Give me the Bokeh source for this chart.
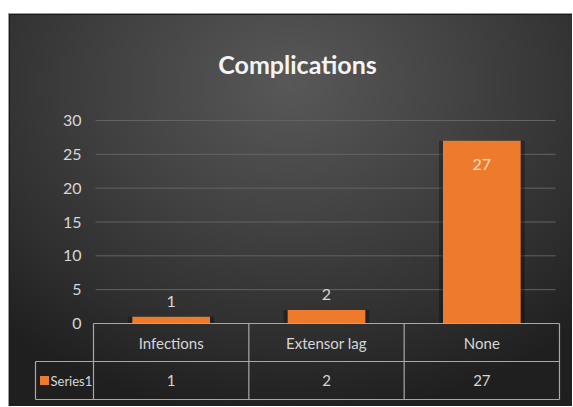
from bokeh.plotting import figure
from bokeh.models import Range1d, ColumnDataSource, Spacer
from bokeh.layouts import column, row
from bokeh.core.properties import value
from bokeh.embed import file_html
from bokeh.resources import INLINE

# ---- data ----
categories = ["Infections", "Extensor lag", "None"]
counts = [1, 2, 27]
series_name = "Series1"
y_ticks = [0, 5, 10, 15, 20, 25, 30]
title_text = "Complications"

# ---- layout constants (pixels) ----
W, H = 564, 393
FONT = "Lato, 'Open Sans', sans-serif"
COL_PX = 155.33          # width of one category column
PPU = 203.0 / 30.0       # pixels per y unit
ROW_PX = 38.0            # table row height
LEG_PX = 58.0            # legend column width
TXT = "#d6d6d6"
LINE = "#a8a8a8"
BAR = "#ee7b2c"

n = len(categories)
xs = [i + 0.5 for i in range(n)]
r1 = ROW_PX / PPU
r2 = 2 * ROW_PX / PPU
leg_left = -LEG_PX / COL_PX

p = figure(width=W, height=H, output_backend="svg", toolbar_location=None,
           x_axis_type=None, y_axis_type=None,
           x_range=Range1d(-60 / COL_PX, n + 2 / COL_PX),
           y_range=Range1d(-(78 / PPU), max(y_ticks) + 10 / PPU),
           min_border_left=25, min_border_right=W - 553, min_border_top=97,
           min_border_bottom=H - 388)
p.border_fill_alpha = 0
p.background_fill_alpha = 0
p.outline_line_color = None
p.styles = {
    "background": "radial-gradient(ellipse 75% 85% at 50% 18%, #585858 0%, #434343 40%, #2f2f2f 75%, #1f1f1f 100%)",
    "box-shadow": "inset 1px 1px 0 0 #9a9a9a, inset 2px 2px 0 0 #1a1a1a",
}

# title
p.title.text = title_text
p.title.align = "center"
p.title.text_font = FONT
p.title.text_font_size = "25px"
p.title.text_font_style = "bold"
p.title.text_color = "#f4f4f4"
p.title.standoff = 64
p.title.offset = -9

# gridlines (from tick list)
grid_y = [t for t in y_ticks if t > 0]
p.segment(x0=[2 / COL_PX] * len(grid_y), x1=[n - 4 / COL_PX] * len(grid_y),
          y0=grid_y, y1=grid_y, line_color="#636363", line_width=1)

# y tick labels
p.text(x=[-12 / COL_PX] * len(y_ticks), y=y_ticks, text=[str(t) for t in y_ticks],
       text_font=value(FONT), text_font_size="16px", text_color=TXT,
       text_align="right", text_baseline="middle")

# bars with shadow
src = ColumnDataSource(dict(x=xs, top=counts, cat=categories))
p.vbar(x="x", top="top", bottom=0, width=0.5 + 8 / COL_PX, source=src,
       fill_color="black", fill_alpha=0.3, line_color=None)
p.vbar(x="x", top="top", bottom=0, width=0.5, source=src,
       fill_color=BAR, line_color=None)

# data labels
out_x, out_y, out_t, in_x, in_y, in_t = [], [], [], [], [], []
for x, v in zip(xs, counts):
    if v * PPU > 40:
        in_x.append(x); in_y.append(v); in_t.append(str(v))
    else:
        out_x.append(x); out_y.append(v); out_t.append(str(v))
p.text(x=out_x, y=out_y, text=out_t, text_font=value(FONT), text_font_size="16px",
       text_color=TXT, text_align="center", text_baseline="bottom", y_offset=-10)
p.text(x=in_x, y=in_y, text=in_t, text_font=value(FONT), text_font_size="16px",
       text_color="#fde2cf", text_align="center", text_baseline="top", y_offset=18)

# data table
hx0 = [0, leg_left, leg_left]
hx1 = [n, n, n]
hy = [0, -r1, -r2]
p.segment(x0=hx0, x1=hx1, y0=hy, y1=hy, line_color=LINE, line_width=1.2)
vx = list(range(n + 1)) + [leg_left]
vy0 = [0] * (n + 1) + [-r1]
vy1 = [-r2] * (n + 2)
p.segment(x0=vx, x1=vx, y0=vy0, y1=vy1, line_color=LINE, line_width=1.2)

p.text(x=xs, y=[-r1 / 2] * n, text=categories, text_font=value(FONT), text_font_size="15px",
       text_color=TXT, text_align="center", text_baseline="middle")
p.text(x=xs, y=[-(r1 + r2) / 2] * n, text=[str(v) for v in counts], text_font=value(FONT),
       text_font_size="15px", text_color=TXT, text_align="center", text_baseline="middle")

# legend key in table
p.scatter(x=[leg_left + 9 / COL_PX], y=[-(r1 + r2) / 2], marker="square", size=9,
          fill_color=BAR, line_color=None)
p.text(x=[leg_left + 15 / COL_PX], y=[-(r1 + r2) / 2], text=[series_name], text_font=value(FONT),
       text_font_size="13px", text_color=TXT, text_align="left", text_baseline="middle")

layout = row(Spacer(width=8, height=H + 13), column(Spacer(width=W, height=13), p))
open("out.html", "w").write(file_html(layout, INLINE))
